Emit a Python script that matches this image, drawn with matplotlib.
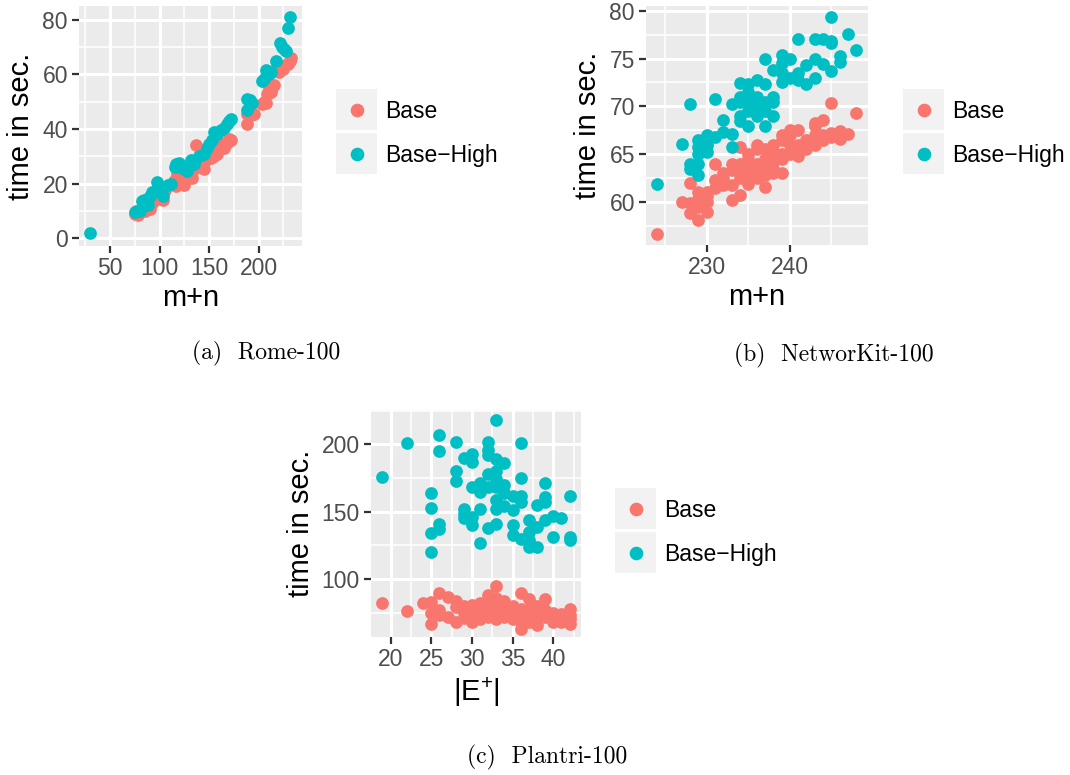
import matplotlib
matplotlib.use("Agg")
import matplotlib.pyplot as plt
from matplotlib.patches import Rectangle
from matplotlib.lines import Line2D
from matplotlib.ticker import FixedLocator

plt.rcParams['font.family'] = ['Liberation Sans', 'DejaVu Sans']
plt.rcParams['mathtext.fontset'] = 'custom'
plt.rcParams['mathtext.rm'] = 'Liberation Sans'
plt.rcParams['mathtext.it'] = 'Liberation Sans:italic'

RED = '#F8766D'
TEAL = '#00BFC4'
series_names = ['Base', 'Base\u2212High']

# ---------------- Panel (a): Rome-100 ----------------
a_base_x = [75, 76, 78, 80, 82, 84, 85, 87, 88, 90, 92, 95, 97, 98, 100, 103, 105, 110, 115, 117,
            118, 120, 122, 125, 126, 128, 130, 133, 135, 137, 140, 142, 145, 147, 150, 152, 155, 158,
            160, 163, 165, 168, 170, 172, 188, 188, 192, 195, 203, 205, 207, 208, 210, 212, 213, 215,
            218, 220, 222, 225, 227, 230, 232, 233]
a_base_y = [9.0, 10.0, 8.5, 9.5, 10.5, 11.5, 9.8, 11.0, 12.5, 10.5, 13.0, 14.0, 18.0, 15.5, 16.5,
            14.0, 17.5, 19.5, 21.0, 19.0, 23.5, 22.0, 20.0, 19.5, 23.0, 21.5, 24.5, 22.0, 25.5, 34.0,
            27.0, 26.0, 25.5, 28.5, 33.0, 29.5, 30.0, 31.0, 33.5, 34.5, 33.0, 35.0, 36.5, 36.0, 42.0,
            45.5, 45.0, 45.5, 49.0, 50.0, 49.5, 53.0, 55.0, 53.5, 55.5, 56.0, 63.0, 61.0, 61.5, 62.0,
            63.5, 64.0, 65.0, 66.0]
a_high_x = [30, 75, 77, 80, 82, 84, 86, 88, 90, 92, 97, 100, 103, 108, 112, 116, 117, 120, 122, 125,
            128, 132, 135, 140, 145, 148, 150, 153, 155, 158, 162, 165, 168, 170, 172, 188, 188, 191,
            193, 203, 205, 207, 210, 212, 217, 222, 224, 226, 228, 230, 232]
a_high_y = [1.8, 9.5, 9.8, 10.0, 13.5, 14.0, 13.0, 12.0, 15.5, 17.0, 20.5, 17.0, 15.5, 19.5, 20.0,
            26.0, 27.0, 27.5, 26.0, 25.5, 24.5, 28.5, 27.0, 30.0, 31.0, 33.0, 34.5, 36.0, 39.0, 38.0,
            39.5, 40.5, 42.0, 43.0, 43.5, 47.0, 51.0, 50.5, 49.5, 57.5, 58.5, 61.5, 60.0, 61.0, 65.0,
            71.5, 70.0, 69.5, 68.5, 77.0, 81.0]

# ---------------- Panel (b): NetworKit-100 ----------------
b_base_x = [224, 227, 228, 228, 228, 229, 229, 229, 229, 230, 230, 230, 230, 231, 231, 231, 232, 232,
            232, 233, 233, 233, 233, 234, 234, 234, 234, 234, 235, 235, 235, 235, 235, 236, 236, 236,
            236, 236, 237, 237, 237, 237, 237, 238, 238, 238, 238, 238, 239, 239, 239, 239, 239, 240,
            240, 240, 240, 241, 241, 241, 242, 242, 243, 243, 243, 243, 244, 244, 244, 245, 245, 245,
            246, 246, 247, 248]
b_base_y = [56.7, 60.0, 62.0, 58.8, 59.9, 58.1, 59.5, 60.3, 61.0, 59.0, 60.0, 61.0, 60.6, 64.0, 61.5,
            62.3, 61.8, 62.5, 63.0, 60.2, 61.8, 63.3, 64.0, 60.7, 62.5, 63.5, 65.8, 64.0, 61.9, 63.0,
            64.5, 65.0, 63.5, 62.5, 64.0, 65.5, 66.0, 63.0, 61.6, 63.5, 64.5, 65.5, 62.8, 63.0, 64.2,
            65.2, 66.0, 63.5, 63.0, 65.0, 66.5, 67.0, 64.5, 65.0, 66.0, 67.0, 67.5, 64.8, 66.0, 67.5,
            65.5, 66.5, 66.0, 67.0, 68.0, 68.3, 66.5, 68.6, 67.0, 70.4, 66.8, 67.2, 66.6, 67.4, 67.1,
            69.3]
b_high_x = [224, 227, 228, 228, 228, 229, 229, 229, 229, 229, 230, 230, 230, 231, 231, 232, 232, 233,
            233, 233, 234, 234, 234, 234, 234, 235, 235, 235, 235, 235, 236, 236, 236, 236, 237, 237,
            237, 237, 237, 238, 238, 238, 238, 239, 239, 239, 239, 240, 240, 241, 241, 241, 242, 242,
            243, 243, 243, 244, 244, 245, 245, 245, 245, 246, 246, 247, 248]
b_high_y = [61.9, 66.1, 70.3, 64.0, 63.5, 62.8, 64.0, 65.0, 66.5, 65.7, 65.2, 66.0, 67.0, 70.8, 66.8,
            67.3, 68.6, 67.1, 65.8, 70.2, 69.0, 70.5, 71.0, 72.4, 68.5, 68.0, 69.5, 70.5, 71.5, 72.3,
            69.0, 70.0, 71.0, 72.8, 68.0, 69.5, 70.5, 72.3, 75.0, 69.0, 70.5, 71.0, 73.8, 72.5, 73.5,
            75.4, 74.5, 73.0, 75.0, 72.8, 73.5, 77.0, 72.3, 74.3, 73.0, 75.0, 77.1, 74.4, 77.1, 79.3,
            76.8, 76.6, 73.7, 74.6, 75.3, 77.6, 75.9]

# ---------------- Panel (c): Plantri-100 ----------------
c_base_x = [19, 22, 24, 25, 25, 25, 26, 26, 26, 27, 27, 28, 28, 28, 29, 29, 29, 30, 30, 30, 30, 31,
            31, 31, 31, 32, 32, 32, 32, 32, 33, 33, 33, 33, 33, 33, 34, 34, 34, 34, 35, 35, 35, 36,
            36, 36, 36, 36, 37, 37, 37, 37, 38, 38, 38, 38, 39, 39, 39, 40, 40, 40, 41, 41, 41, 42,
            42, 42, 42]
c_base_y = [82, 76, 82, 83, 75, 67, 90, 77, 73, 87, 72, 84, 68, 79, 80, 75, 71, 81, 76, 68, 73, 82,
            77, 70, 74, 88, 83, 76, 72, 80, 95, 86, 80, 74, 70, 77, 84, 78, 72, 75, 80, 74, 70, 90,
            78, 72, 63, 68, 85, 78, 74, 68, 80, 74, 66, 72, 85, 77, 72, 75, 70, 68, 74, 70, 68, 78,
            73, 67, 70]
c_high_x = [19, 22, 25, 25, 25, 25, 26, 26, 26, 26, 28, 28, 28, 29, 29, 29, 29, 30, 30, 30, 30, 30,
            31, 31, 31, 31, 32, 32, 32, 32, 32, 32, 33, 33, 33, 33, 33, 33, 33, 33, 34, 34, 34, 34,
            35, 35, 35, 35, 36, 36, 36, 36, 36, 37, 37, 37, 37, 38, 38, 38, 39, 39, 39, 39, 40, 40,
            41, 42, 42, 42]
c_high_y = [176, 201, 164, 153, 134, 120, 207, 195, 141, 137, 202, 180, 173, 190, 152, 145, 148, 193,
            187, 168, 146, 140, 171, 165, 152, 127, 202, 196, 192, 178, 168, 138, 218, 189, 180, 174,
            168, 159, 152, 141, 186, 170, 164, 154, 162, 151, 140, 133, 201, 175, 162, 157, 130, 144,
            135, 129, 124, 155, 139, 124, 171, 161, 157, 144, 147, 131, 145, 162, 131, 129]

W, H = 1070, 775
fig = plt.figure(figsize=(W / 100, H / 100), dpi=100)


def add_axes_px(left, top, right, bottom):
    return fig.add_axes([left / W, 1 - bottom / H, (right - left) / W, (bottom - top) / H])


def style(ax, xlim, ylim, xmaj, xmin, ymaj, ymin, xlabel, ylabel):
    ax.set_facecolor('#EBEBEB')
    for s in ax.spines.values():
        s.set_visible(False)
    ax.set_xlim(*xlim)
    ax.set_ylim(*ylim)
    ax.xaxis.set_major_locator(FixedLocator(xmaj))
    ax.xaxis.set_minor_locator(FixedLocator(xmin))
    ax.yaxis.set_major_locator(FixedLocator(ymaj))
    ax.yaxis.set_minor_locator(FixedLocator(ymin))
    ax.grid(which='major', color='white', linewidth=2.2)
    ax.grid(which='minor', color='white', linewidth=1.1)
    ax.set_axisbelow(True)
    ax.tick_params(which='major', length=5, width=1.6, color='#333333',
                   labelsize=16.5, labelcolor='#4D4D4D', pad=3)
    ax.tick_params(which='minor', length=0)
    ax.set_xlabel(xlabel, fontsize=21, color='black', labelpad=3)
    ax.set_ylabel(ylabel, fontsize=21, color='black', labelpad=5)


def draw_legend(x0, y0):
    key = 41
    step = 44
    for i, (name, col) in enumerate(zip(series_names, [RED, TEAL])):
        top = y0 + i * step
        fig.add_artist(Rectangle((x0 / W, 1 - (top + key) / H), key / W, key / H,
                                 transform=fig.transFigure, facecolor='#F2F2F2',
                                 edgecolor='none'))
        fig.add_artist(Line2D([(x0 + key / 2) / W], [1 - (top + key / 2) / H], marker='o',
                              markersize=8.8, color=col, linestyle='none',
                              transform=fig.transFigure))
        fig.text((x0 + key + 8) / W, 1 - (top + key / 2 + 2) / H, name, fontsize=16.5,
                 va='center', ha='left', color='black')


ms = 84

# Panel (a)
axa = add_axes_px(79, 6, 302, 246)
style(axa, (18.7, 243.7), (-2.9, 85.1), [50, 100, 150, 200], [25, 75, 125, 175, 225],
      [0, 20, 40, 60, 80], [10, 30, 50, 70], 'm+n', 'time in sec.')
axa.scatter(a_base_x, a_base_y, s=ms, color=RED, linewidths=0, zorder=3)
axa.scatter(a_high_x, a_high_y, s=ms, color=TEAL, linewidths=0, zorder=3)
draw_legend(336, 89)

# Panel (b)
axb = add_axes_px(646, 6, 868, 245)
style(axb, (222.7, 249.4), (55.5, 80.5), [230, 240], [225, 235, 245],
      [60, 65, 70, 75, 80], [57.5, 62.5, 67.5, 72.5, 77.5], 'm+n', 'time in sec.')
axb.scatter(b_base_x, b_base_y, s=ms, color=RED, linewidths=0, zorder=3)
axb.scatter(b_high_x, b_high_y, s=ms, color=TEAL, linewidths=0, zorder=3)
draw_legend(903, 89)

# Panel (c)
axc = add_axes_px(371, 410, 581, 637)
style(axc, (17.6, 43.4), (57, 225.5), [20, 25, 30, 35, 40], [17.5, 22.5, 27.5, 32.5, 37.5, 42.5],
      [100, 150, 200], [75, 125, 175, 225], r'|E$^{\mathrm{+}}$|', 'time in sec.')
axc.scatter(c_base_x, c_base_y, s=ms, color=RED, linewidths=0, zorder=3)
axc.scatter(c_high_x, c_high_y, s=ms, color=TEAL, linewidths=0, zorder=3)
draw_legend(615, 488)

# Captions
cap_font = dict(fontsize=17, family=['cmr10', 'DejaVu Serif'], ha='center', va='center')
fig.text(266 / W, 1 - 353 / H, '(a)  Rome-100', **cap_font)
fig.text(834 / W, 1 - 355 / H, '(b)  NetworKit-100', **cap_font)
fig.text(547 / W, 1 - 757 / H, '(c)  Plantri-100', **cap_font)

fig.savefig('out.png', dpi=100)
